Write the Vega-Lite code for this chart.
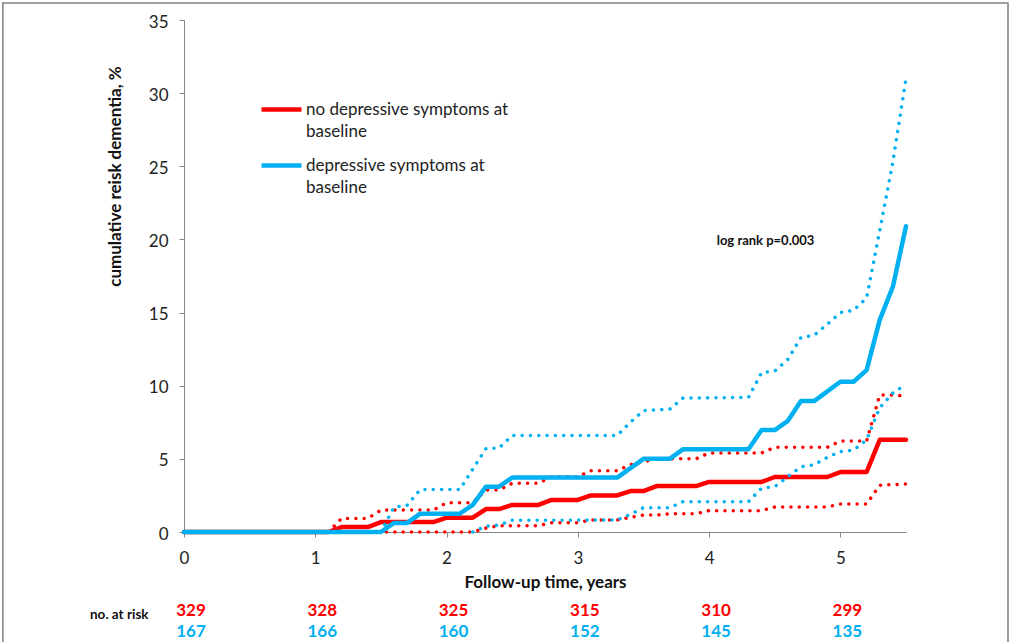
{
  "$schema": "https://vega.github.io/schema/vega-lite/v6.json",
  "width": 722,
  "height": 512,
  "autosize": {"type": "none"},
  "padding": {"left": 184, "top": 20, "right": 104, "bottom": 110},
  "background": "white",
  "config": {
    "view": {"stroke": null},
    "font": "Lato",
    "style": {"guide-label": {"lineHeight": 22}},
    "axis": {
      "grid": false,
      "domainColor": "#868686",
      "tickColor": "#868686",
      "tickSize": 5,
      "labelFont": "Lato",
      "labelFontSize": 17,
      "labelColor": "#222222",
      "titleFont": "Lato",
      "titleFontSize": 17,
      "titleFontWeight": "bold",
      "titleColor": "#111111"
    }
  },
  "datasets": {
    "curves": [
      {"group": "no depressive symptoms at baseline", "kind": "est", "t": 0, "v": 0},
      {"group": "no depressive symptoms at baseline", "kind": "est", "t": 1.1, "v": 0},
      {"group": "no depressive symptoms at baseline", "kind": "est", "t": 1.2, "v": 0.34},
      {"group": "no depressive symptoms at baseline", "kind": "est", "t": 1.4, "v": 0.34},
      {"group": "no depressive symptoms at baseline", "kind": "est", "t": 1.5, "v": 0.68},
      {"group": "no depressive symptoms at baseline", "kind": "est", "t": 1.9, "v": 0.68},
      {"group": "no depressive symptoms at baseline", "kind": "est", "t": 2.0, "v": 0.98},
      {"group": "no depressive symptoms at baseline", "kind": "est", "t": 2.2, "v": 0.98},
      {"group": "no depressive symptoms at baseline", "kind": "est", "t": 2.3, "v": 1.57},
      {"group": "no depressive symptoms at baseline", "kind": "est", "t": 2.4, "v": 1.57},
      {"group": "no depressive symptoms at baseline", "kind": "est", "t": 2.5, "v": 1.85},
      {"group": "no depressive symptoms at baseline", "kind": "est", "t": 2.7, "v": 1.85},
      {"group": "no depressive symptoms at baseline", "kind": "est", "t": 2.8, "v": 2.19},
      {"group": "no depressive symptoms at baseline", "kind": "est", "t": 3.0, "v": 2.19},
      {"group": "no depressive symptoms at baseline", "kind": "est", "t": 3.1, "v": 2.5},
      {"group": "no depressive symptoms at baseline", "kind": "est", "t": 3.3, "v": 2.5},
      {"group": "no depressive symptoms at baseline", "kind": "est", "t": 3.4, "v": 2.8},
      {"group": "no depressive symptoms at baseline", "kind": "est", "t": 3.5, "v": 2.8},
      {"group": "no depressive symptoms at baseline", "kind": "est", "t": 3.6, "v": 3.14},
      {"group": "no depressive symptoms at baseline", "kind": "est", "t": 3.9, "v": 3.14},
      {"group": "no depressive symptoms at baseline", "kind": "est", "t": 4.0, "v": 3.42},
      {"group": "no depressive symptoms at baseline", "kind": "est", "t": 4.4, "v": 3.42},
      {"group": "no depressive symptoms at baseline", "kind": "est", "t": 4.5, "v": 3.76},
      {"group": "no depressive symptoms at baseline", "kind": "est", "t": 4.9, "v": 3.76},
      {"group": "no depressive symptoms at baseline", "kind": "est", "t": 5.0, "v": 4.1},
      {"group": "no depressive symptoms at baseline", "kind": "est", "t": 5.2, "v": 4.1},
      {"group": "no depressive symptoms at baseline", "kind": "est", "t": 5.3, "v": 6.3},
      {"group": "no depressive symptoms at baseline", "kind": "est", "t": 5.5, "v": 6.3},

      {"group": "no depressive symptoms at baseline", "kind": "upper", "t": 1.1, "v": 0},
      {"group": "no depressive symptoms at baseline", "kind": "upper", "t": 1.2, "v": 0.93},
      {"group": "no depressive symptoms at baseline", "kind": "upper", "t": 1.4, "v": 0.93},
      {"group": "no depressive symptoms at baseline", "kind": "upper", "t": 1.5, "v": 1.5},
      {"group": "no depressive symptoms at baseline", "kind": "upper", "t": 1.9, "v": 1.5},
      {"group": "no depressive symptoms at baseline", "kind": "upper", "t": 2.0, "v": 2.0},
      {"group": "no depressive symptoms at baseline", "kind": "upper", "t": 2.2, "v": 2.0},
      {"group": "no depressive symptoms at baseline", "kind": "upper", "t": 2.3, "v": 2.87},
      {"group": "no depressive symptoms at baseline", "kind": "upper", "t": 2.4, "v": 2.87},
      {"group": "no depressive symptoms at baseline", "kind": "upper", "t": 2.5, "v": 3.33},
      {"group": "no depressive symptoms at baseline", "kind": "upper", "t": 2.7, "v": 3.33},
      {"group": "no depressive symptoms at baseline", "kind": "upper", "t": 2.8, "v": 3.78},
      {"group": "no depressive symptoms at baseline", "kind": "upper", "t": 3.0, "v": 3.78},
      {"group": "no depressive symptoms at baseline", "kind": "upper", "t": 3.1, "v": 4.19},
      {"group": "no depressive symptoms at baseline", "kind": "upper", "t": 3.3, "v": 4.19},
      {"group": "no depressive symptoms at baseline", "kind": "upper", "t": 3.4, "v": 4.6},
      {"group": "no depressive symptoms at baseline", "kind": "upper", "t": 3.5, "v": 4.8},
      {"group": "no depressive symptoms at baseline", "kind": "upper", "t": 3.6, "v": 5.0},
      {"group": "no depressive symptoms at baseline", "kind": "upper", "t": 3.9, "v": 5.0},
      {"group": "no depressive symptoms at baseline", "kind": "upper", "t": 4.0, "v": 5.4},
      {"group": "no depressive symptoms at baseline", "kind": "upper", "t": 4.4, "v": 5.4},
      {"group": "no depressive symptoms at baseline", "kind": "upper", "t": 4.5, "v": 5.79},
      {"group": "no depressive symptoms at baseline", "kind": "upper", "t": 4.9, "v": 5.79},
      {"group": "no depressive symptoms at baseline", "kind": "upper", "t": 5.0, "v": 6.22},
      {"group": "no depressive symptoms at baseline", "kind": "upper", "t": 5.2, "v": 6.22},
      {"group": "no depressive symptoms at baseline", "kind": "upper", "t": 5.3, "v": 9.36},
      {"group": "no depressive symptoms at baseline", "kind": "upper", "t": 5.4, "v": 9.36},
      {"group": "no depressive symptoms at baseline", "kind": "upper", "t": 5.5, "v": 9.3},

      {"group": "no depressive symptoms at baseline", "kind": "lower", "t": 1.1, "v": 0},
      {"group": "no depressive symptoms at baseline", "kind": "lower", "t": 2.2, "v": 0},
      {"group": "no depressive symptoms at baseline", "kind": "lower", "t": 2.3, "v": 0.27},
      {"group": "no depressive symptoms at baseline", "kind": "lower", "t": 2.4, "v": 0.43},
      {"group": "no depressive symptoms at baseline", "kind": "lower", "t": 2.7, "v": 0.43},
      {"group": "no depressive symptoms at baseline", "kind": "lower", "t": 2.8, "v": 0.64},
      {"group": "no depressive symptoms at baseline", "kind": "lower", "t": 3.0, "v": 0.64},
      {"group": "no depressive symptoms at baseline", "kind": "lower", "t": 3.1, "v": 0.82},
      {"group": "no depressive symptoms at baseline", "kind": "lower", "t": 3.3, "v": 0.82},
      {"group": "no depressive symptoms at baseline", "kind": "lower", "t": 3.4, "v": 1.0},
      {"group": "no depressive symptoms at baseline", "kind": "lower", "t": 3.5, "v": 1.16},
      {"group": "no depressive symptoms at baseline", "kind": "lower", "t": 3.6, "v": 1.16},
      {"group": "no depressive symptoms at baseline", "kind": "lower", "t": 3.7, "v": 1.25},
      {"group": "no depressive symptoms at baseline", "kind": "lower", "t": 3.9, "v": 1.25},
      {"group": "no depressive symptoms at baseline", "kind": "lower", "t": 4.0, "v": 1.46},
      {"group": "no depressive symptoms at baseline", "kind": "lower", "t": 4.4, "v": 1.46},
      {"group": "no depressive symptoms at baseline", "kind": "lower", "t": 4.5, "v": 1.71},
      {"group": "no depressive symptoms at baseline", "kind": "lower", "t": 4.9, "v": 1.71},
      {"group": "no depressive symptoms at baseline", "kind": "lower", "t": 5.0, "v": 1.91},
      {"group": "no depressive symptoms at baseline", "kind": "lower", "t": 5.2, "v": 1.91},
      {"group": "no depressive symptoms at baseline", "kind": "lower", "t": 5.3, "v": 3.2},
      {"group": "no depressive symptoms at baseline", "kind": "lower", "t": 5.5, "v": 3.28},

      {"group": "depressive symptoms at baseline", "kind": "est", "t": 0, "v": 0},
      {"group": "depressive symptoms at baseline", "kind": "est", "t": 1.5, "v": 0},
      {"group": "depressive symptoms at baseline", "kind": "est", "t": 1.6, "v": 0.62},
      {"group": "depressive symptoms at baseline", "kind": "est", "t": 1.7, "v": 0.62},
      {"group": "depressive symptoms at baseline", "kind": "est", "t": 1.8, "v": 1.25},
      {"group": "depressive symptoms at baseline", "kind": "est", "t": 2.1, "v": 1.25},
      {"group": "depressive symptoms at baseline", "kind": "est", "t": 2.2, "v": 1.85},
      {"group": "depressive symptoms at baseline", "kind": "est", "t": 2.3, "v": 3.1},
      {"group": "depressive symptoms at baseline", "kind": "est", "t": 2.4, "v": 3.1},
      {"group": "depressive symptoms at baseline", "kind": "est", "t": 2.5, "v": 3.72},
      {"group": "depressive symptoms at baseline", "kind": "est", "t": 3.3, "v": 3.72},
      {"group": "depressive symptoms at baseline", "kind": "est", "t": 3.5, "v": 5.0},
      {"group": "depressive symptoms at baseline", "kind": "est", "t": 3.7, "v": 5.0},
      {"group": "depressive symptoms at baseline", "kind": "est", "t": 3.8, "v": 5.65},
      {"group": "depressive symptoms at baseline", "kind": "est", "t": 4.3, "v": 5.65},
      {"group": "depressive symptoms at baseline", "kind": "est", "t": 4.4, "v": 6.97},
      {"group": "depressive symptoms at baseline", "kind": "est", "t": 4.5, "v": 6.97},
      {"group": "depressive symptoms at baseline", "kind": "est", "t": 4.6, "v": 7.6},
      {"group": "depressive symptoms at baseline", "kind": "est", "t": 4.7, "v": 8.95},
      {"group": "depressive symptoms at baseline", "kind": "est", "t": 4.8, "v": 8.95},
      {"group": "depressive symptoms at baseline", "kind": "est", "t": 5.0, "v": 10.27},
      {"group": "depressive symptoms at baseline", "kind": "est", "t": 5.1, "v": 10.27},
      {"group": "depressive symptoms at baseline", "kind": "est", "t": 5.2, "v": 11.07},
      {"group": "depressive symptoms at baseline", "kind": "est", "t": 5.3, "v": 14.5},
      {"group": "depressive symptoms at baseline", "kind": "est", "t": 5.4, "v": 16.77},
      {"group": "depressive symptoms at baseline", "kind": "est", "t": 5.5, "v": 20.9},

      {"group": "depressive symptoms at baseline", "kind": "upper", "t": 1.5, "v": 0},
      {"group": "depressive symptoms at baseline", "kind": "upper", "t": 1.6, "v": 1.7},
      {"group": "depressive symptoms at baseline", "kind": "upper", "t": 1.7, "v": 1.83},
      {"group": "depressive symptoms at baseline", "kind": "upper", "t": 1.8, "v": 2.9},
      {"group": "depressive symptoms at baseline", "kind": "upper", "t": 2.1, "v": 2.9},
      {"group": "depressive symptoms at baseline", "kind": "upper", "t": 2.3, "v": 5.7},
      {"group": "depressive symptoms at baseline", "kind": "upper", "t": 2.4, "v": 5.74},
      {"group": "depressive symptoms at baseline", "kind": "upper", "t": 2.5, "v": 6.6},
      {"group": "depressive symptoms at baseline", "kind": "upper", "t": 3.3, "v": 6.6},
      {"group": "depressive symptoms at baseline", "kind": "upper", "t": 3.4, "v": 7.5},
      {"group": "depressive symptoms at baseline", "kind": "upper", "t": 3.5, "v": 8.3},
      {"group": "depressive symptoms at baseline", "kind": "upper", "t": 3.7, "v": 8.4},
      {"group": "depressive symptoms at baseline", "kind": "upper", "t": 3.8, "v": 9.15},
      {"group": "depressive symptoms at baseline", "kind": "upper", "t": 4.3, "v": 9.2},
      {"group": "depressive symptoms at baseline", "kind": "upper", "t": 4.4, "v": 10.9},
      {"group": "depressive symptoms at baseline", "kind": "upper", "t": 4.5, "v": 11.0},
      {"group": "depressive symptoms at baseline", "kind": "upper", "t": 4.6, "v": 11.8},
      {"group": "depressive symptoms at baseline", "kind": "upper", "t": 4.7, "v": 13.3},
      {"group": "depressive symptoms at baseline", "kind": "upper", "t": 4.8, "v": 13.45},
      {"group": "depressive symptoms at baseline", "kind": "upper", "t": 4.9, "v": 14.2},
      {"group": "depressive symptoms at baseline", "kind": "upper", "t": 5.0, "v": 15.0},
      {"group": "depressive symptoms at baseline", "kind": "upper", "t": 5.1, "v": 15.15},
      {"group": "depressive symptoms at baseline", "kind": "upper", "t": 5.2, "v": 16.0},
      {"group": "depressive symptoms at baseline", "kind": "upper", "t": 5.3, "v": 20.6},
      {"group": "depressive symptoms at baseline", "kind": "upper", "t": 5.4, "v": 25.3},
      {"group": "depressive symptoms at baseline", "kind": "upper", "t": 5.5, "v": 31.0},

      {"group": "depressive symptoms at baseline", "kind": "lower", "t": 2.2, "v": 0},
      {"group": "depressive symptoms at baseline", "kind": "lower", "t": 2.3, "v": 0.4},
      {"group": "depressive symptoms at baseline", "kind": "lower", "t": 2.4, "v": 0.48},
      {"group": "depressive symptoms at baseline", "kind": "lower", "t": 2.5, "v": 0.8},
      {"group": "depressive symptoms at baseline", "kind": "lower", "t": 3.3, "v": 0.82},
      {"group": "depressive symptoms at baseline", "kind": "lower", "t": 3.4, "v": 1.2},
      {"group": "depressive symptoms at baseline", "kind": "lower", "t": 3.5, "v": 1.66},
      {"group": "depressive symptoms at baseline", "kind": "lower", "t": 3.7, "v": 1.66},
      {"group": "depressive symptoms at baseline", "kind": "lower", "t": 3.8, "v": 2.07},
      {"group": "depressive symptoms at baseline", "kind": "lower", "t": 4.3, "v": 2.07},
      {"group": "depressive symptoms at baseline", "kind": "lower", "t": 4.4, "v": 3.0},
      {"group": "depressive symptoms at baseline", "kind": "lower", "t": 4.5, "v": 3.1},
      {"group": "depressive symptoms at baseline", "kind": "lower", "t": 4.6, "v": 3.78},
      {"group": "depressive symptoms at baseline", "kind": "lower", "t": 4.7, "v": 4.46},
      {"group": "depressive symptoms at baseline", "kind": "lower", "t": 4.8, "v": 4.6},
      {"group": "depressive symptoms at baseline", "kind": "lower", "t": 4.9, "v": 5.1},
      {"group": "depressive symptoms at baseline", "kind": "lower", "t": 5.0, "v": 5.5},
      {"group": "depressive symptoms at baseline", "kind": "lower", "t": 5.1, "v": 5.6},
      {"group": "depressive symptoms at baseline", "kind": "lower", "t": 5.2, "v": 6.3},
      {"group": "depressive symptoms at baseline", "kind": "lower", "t": 5.3, "v": 8.5},
      {"group": "depressive symptoms at baseline", "kind": "lower", "t": 5.4, "v": 9.5},
      {"group": "depressive symptoms at baseline", "kind": "lower", "t": 5.5, "v": 10.1}
    ],
    "risk": [
      {"group": "no depressive symptoms at baseline", "t": 0, "n": 329},
      {"group": "no depressive symptoms at baseline", "t": 1, "n": 328},
      {"group": "no depressive symptoms at baseline", "t": 2, "n": 325},
      {"group": "no depressive symptoms at baseline", "t": 3, "n": 315},
      {"group": "no depressive symptoms at baseline", "t": 4, "n": 310},
      {"group": "no depressive symptoms at baseline", "t": 5, "n": 299},
      {"group": "depressive symptoms at baseline", "t": 0, "n": 167},
      {"group": "depressive symptoms at baseline", "t": 1, "n": 166},
      {"group": "depressive symptoms at baseline", "t": 2, "n": 160},
      {"group": "depressive symptoms at baseline", "t": 3, "n": 152},
      {"group": "depressive symptoms at baseline", "t": 4, "n": 145},
      {"group": "depressive symptoms at baseline", "t": 5, "n": 135}
    ],
    "notes": [
      {"label": "log rank p=0.003", "t": 4.43, "v": 19.62},
      {"label": "no. at risk", "t": -0.716, "v": 0}
    ]
  },
  "layer": [
    {
      "data": {"name": "curves"},
      "transform": [{"filter": "datum.group == 'no depressive symptoms at baseline' && datum.kind != 'est'"}],
      "mark": {"type": "line", "color": "#FF0000", "strokeWidth": 3.5, "strokeDash": [0.01, 8.3], "strokeCap": "round"},
      "encoding": {
        "x": {
          "field": "t",
          "type": "quantitative",
          "scale": {"domain": [0, 5.5], "nice": false, "zero": false},
          "axis": {
            "title": "Follow-up time, years",
            "values": [0, 1, 2, 3, 4, 5],
            "format": "d",
            "labelPadding": 13,
            "labelFlush": false,
            "titleY": 55,
            "titleBaseline": "alphabetic"
          }
        },
        "y": {
          "field": "v",
          "type": "quantitative",
          "scale": {"domain": [0, 35], "nice": false},
          "axis": {
            "title": "cumulative reisk dementia, %",
            "values": [0, 5, 10, 15, 20, 25, 30, 35],
            "format": "d",
            "labelPadding": 11,
            "labelOffset": 2,
            "titleAngle": -90,
            "titleX": -64,
            "titleY": 156,
            "titleAlign": "center",
            "titleBaseline": "alphabetic"
          }
        },
        "detail": {"field": "kind"}
      }
    },
    {
      "data": {"name": "curves"},
      "transform": [{"filter": "datum.group == 'no depressive symptoms at baseline' && datum.kind == 'est'"}],
      "mark": {"type": "line", "strokeWidth": 4.5, "strokeJoin": "round", "strokeCap": "round"},
      "encoding": {
        "x": {"field": "t", "type": "quantitative"},
        "y": {"field": "v", "type": "quantitative"},
        "color": {
          "field": "group",
          "type": "nominal",
          "scale": {"domain": ["no depressive symptoms at baseline", "depressive symptoms at baseline"], "range": ["#FF0000", "#00B0F0"]},
          "legend": {
            "orient": "none",
            "legendX": 75,
            "legendY": 67,
            "title": null,
            "padding": 0,
            "symbolType": "stroke",
            "symbolSize": 1600,
            "symbolStrokeWidth": 4.5,
            "labelFont": "Lato",
            "labelFontSize": 17,
            "labelColor": "#222222",
            "labelLimit": 0,
            "labelOffset": 2,
            "labelBaseline": "middle",
            "rowPadding": 3,
            "labelExpr": "[slice(datum.label, 0, -9), 'baseline']"
          }
        }
      }
    },
    {
      "data": {"name": "curves"},
      "transform": [{"filter": "datum.group == 'depressive symptoms at baseline' && datum.kind != 'est'"}],
      "mark": {"type": "line", "color": "#00B0F0", "strokeWidth": 3.5, "strokeDash": [0.01, 8.3], "strokeCap": "round"},
      "encoding": {
        "x": {"field": "t", "type": "quantitative"},
        "y": {"field": "v", "type": "quantitative"},
        "detail": {"field": "kind"}
      }
    },
    {
      "data": {"name": "curves"},
      "transform": [{"filter": "datum.group == 'depressive symptoms at baseline' && datum.kind == 'est'"}],
      "mark": {"type": "line", "strokeWidth": 4.5, "strokeJoin": "round", "strokeCap": "round"},
      "encoding": {
        "x": {"field": "t", "type": "quantitative"},
        "y": {"field": "v", "type": "quantitative"},
        "color": {"field": "group", "type": "nominal"}
      }
    },
    {
      "data": {"name": "risk"},
      "transform": [{"filter": "datum.group == 'no depressive symptoms at baseline'"}],
      "mark": {"type": "text", "color": "#FF0000", "fontSize": 17, "fontWeight": "bold", "align": "center", "baseline": "alphabetic", "dx": 7, "dy": 84},
      "encoding": {
        "x": {"field": "t", "type": "quantitative"},
        "y": {"datum": 0},
        "text": {"field": "n", "type": "nominal"}
      }
    },
    {
      "data": {"name": "risk"},
      "transform": [{"filter": "datum.group == 'depressive symptoms at baseline'"}],
      "mark": {"type": "text", "color": "#00B0F0", "fontSize": 17, "fontWeight": "bold", "align": "center", "baseline": "alphabetic", "dx": 7, "dy": 104.5},
      "encoding": {
        "x": {"field": "t", "type": "quantitative"},
        "y": {"datum": 0},
        "text": {"field": "n", "type": "nominal"}
      }
    },
    {
      "data": {"name": "notes"},
      "transform": [{"filter": "datum.label == 'no. at risk'"}],
      "mark": {"type": "text", "color": "#111111", "fontSize": 13.5, "fontWeight": "bold", "align": "left", "baseline": "alphabetic", "dy": 87},
      "encoding": {
        "x": {"field": "t", "type": "quantitative"},
        "y": {"field": "v", "type": "quantitative"},
        "text": {"field": "label", "type": "nominal"}
      }
    },
    {
      "data": {"name": "notes"},
      "transform": [{"filter": "datum.label == 'log rank p=0.003'"}],
      "mark": {"type": "text", "color": "#111111", "fontSize": 13, "fontWeight": "bold", "align": "center", "baseline": "alphabetic"},
      "encoding": {
        "x": {"field": "t", "type": "quantitative"},
        "y": {"field": "v", "type": "quantitative"},
        "text": {"field": "label", "type": "nominal"}
      }
    },
    {
      "data": {"values": [{"frame": "chart area"}]},
      "mark": {"type": "rect", "filled": false, "stroke": "#7F7F7F", "strokeWidth": 1.5},
      "encoding": {
        "x": {"datum": -1.38},
        "x2": {"datum": 6.277},
        "y": {"datum": 36.16},
        "y2": {"datum": -10}
      }
    }
  ]
}
